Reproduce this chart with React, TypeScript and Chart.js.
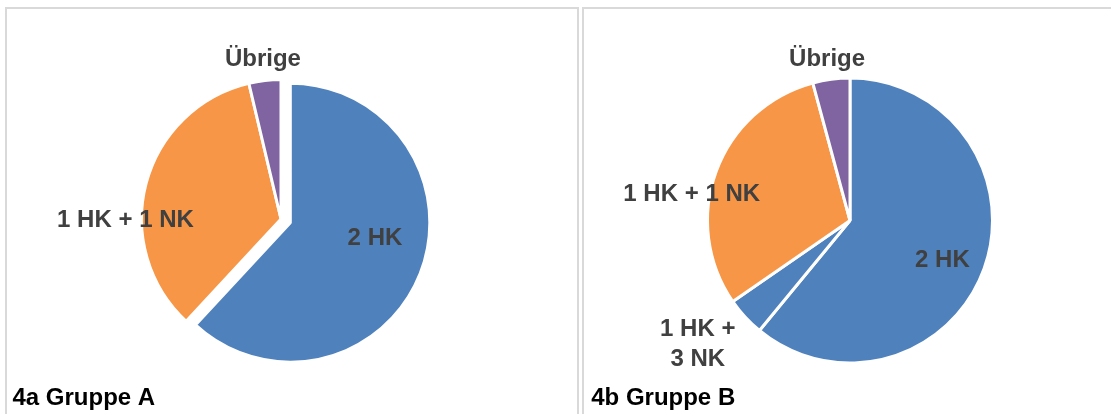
import React, { useEffect, useRef } from 'react';
import { Chart, registerables } from 'chart.js';

Chart.register(...registerables);

// ---------- data ----------
const categoriesA = ['2 HK', '1 HK + 1 NK', 'Übrige'];
const valuesA = [61.9, 34.4, 3.7];
const labelLinesA = [['2 HK'], ['1 HK + 1 NK'], ['Übrige']];
const titleA = '4a Gruppe A';

const categoriesB = ['2 HK', '1 HK + 3 NK', '1 HK + 1 NK', 'Übrige'];
const valuesB = [60.9, 4.4, 30.4, 4.2];
const labelLinesB = [['2 HK'], ['1 HK +', '3 NK'], ['1 HK + 1 NK'], ['Übrige']];
const titleB = '4b Gruppe B';

// ---------- styles ----------
const BLUE = '#4F81BD';
const ORANGE = '#F79646';
const PURPLE = '#8064A2';
const colorsA = [BLUE, ORANGE, PURPLE];
const colorsB = [BLUE, BLUE, ORANGE, PURPLE];
const explodeA = [10, 0, 0];
const explodeB = [0, 0, 0, 0];
// label placement: angle (deg, clockwise from 12 o'clock) and distance as fraction of radius
const placeA = [
  { angle: 99.4, dist: 0.615 },
  { angle: 270.1, dist: 1.115 },
  { angle: 353.6, dist: 1.164 },
];
const placeB = [
  { angle: 112.1, dist: 0.7 },
  { angle: 231.3, dist: 1.369 },
  { angle: 280.0, dist: 1.128 },
  { angle: 352.0, dist: 1.154 },
];
const FONT = '"Liberation Sans", Arial, Helvetica, sans-serif';
const LABEL_SIZE = 24;
const LINE_GAP = 30;

function makePlugin(explode: number[], lines: string[][], place: { angle: number; dist: number }[], title: string, titleX: number) {
  return {
    id: 'pieDecor',
    afterDatasetUpdate(chart: any, args: any) {
      const meta = args.meta;
      meta.data.forEach((arc: any, i: number) => {
        const ex = explode[i] || 0;
        if (ex && !arc._explodeWrapped) {
          const orig = arc.draw;
          arc.draw = function (ctx: CanvasRenderingContext2D, area: any) {
            const mid = (this.startAngle + this.endAngle) / 2;
            ctx.save();
            ctx.translate(Math.cos(mid) * ex, Math.sin(mid) * ex);
            orig.call(this, ctx, area);
            ctx.restore();
          };
          arc._explodeWrapped = true;
        }
      });
    },
    afterDraw(chart: any) {
      const ctx: CanvasRenderingContext2D = chart.ctx;
      const meta = chart.getDatasetMeta(0);
      ctx.save();
      ctx.font = `bold ${LABEL_SIZE}px ${FONT}`;
      ctx.fillStyle = '#404040';
      ctx.textAlign = 'center';
      ctx.textBaseline = 'alphabetic';
      const capHalf = LABEL_SIZE * 0.716 / 2;
      meta.data.forEach((arc: any, i: number) => {
        const ex = explode[i] || 0;
        const mid = (arc.startAngle + arc.endAngle) / 2;
        const cx = arc.x + Math.cos(mid) * ex;
        const cy = arc.y + Math.sin(mid) * ex;
        const p = place[i];
        const th = (p.angle * Math.PI) / 180;
        const d = p.dist * arc.outerRadius;
        const px = cx + d * Math.sin(th);
        const py = cy - d * Math.cos(th);
        const ls = lines[i];
        const n = ls.length;
        ls.forEach((t, k) => {
          const yy = py + (k - (n - 1) / 2) * LINE_GAP + capHalf;
          ctx.fillText(t, px, yy);
        });
      });
      ctx.font = `bold 24px ${FONT}`;
      ctx.fillStyle = '#000000';
      ctx.textAlign = 'left';
      ctx.fillText(title, titleX, 405);
      ctx.restore();
    },
  };
}

type PanelProps = {
  left: number;
  width: number;
  categories: string[];
  values: number[];
  colors: string[];
  explode: number[];
  lines: string[][];
  place: { angle: number; dist: number }[];
  padding: { left: number; right: number; top: number; bottom: number };
  radius: number;
  title: string;
  titleX: number;
};

function PiePanel(props: PanelProps) {
  const ref = useRef<HTMLCanvasElement | null>(null);
  useEffect(() => {
    if (!ref.current) return;
    const chart = new Chart(ref.current, {
      type: 'pie',
      data: {
        labels: props.categories,
        datasets: [
          {
            data: props.values,
            backgroundColor: props.colors,
            borderColor: '#ffffff',
            borderWidth: 3,
            radius: props.radius,
          } as any,
        ],
      },
      options: {
        responsive: false,
        animation: false,
        devicePixelRatio: 1,
        events: [],
        layout: { padding: props.padding },
        plugins: {
          legend: { display: false },
          tooltip: { enabled: false },
        },
      } as any,
      plugins: [makePlugin(props.explode, props.lines, props.place, props.title, props.titleX)],
    });
    return () => chart.destroy();
  }, []);
  return (
    <canvas
      ref={ref}
      width={props.width}
      height={414}
      style={{ position: 'absolute', left: props.left, top: 0, width: props.width, height: 414 }}
    />
  );
}

export default function App() {
  const border = '2px solid #d9d9d9';
  return (
    <div
      style={{
        position: 'fixed',
        left: 0,
        top: 0,
        width: 1111,
        height: 414,
        overflow: 'hidden',
        background: '#ffffff',
      }}
    >
      <div
        style={{
          position: 'absolute',
          left: 5,
          top: 7,
          width: 574,
          height: 420,
          boxSizing: 'border-box',
          borderLeft: border,
          borderTop: border,
          borderRight: border,
        }}
      />
      <div
        style={{
          position: 'absolute',
          left: 582,
          top: 7,
          width: 540,
          height: 420,
          boxSizing: 'border-box',
          borderLeft: border,
          borderTop: border,
        }}
      />
      <PiePanel
        left={0}
        width={580}
        categories={categoriesA}
        values={valuesA}
        colors={colorsA}
        explode={explodeA}
        lines={labelLinesA}
        place={placeA}
        padding={{ left: 0, right: 18, top: 24, bottom: 0 }}
        radius={139.5}
        title={titleA}
        titleX={12.5}
      />
      <PiePanel
        left={580}
        width={531}
        categories={categoriesB}
        values={valuesB}
        colors={colorsB}
        explode={explodeB}
        lines={labelLinesB}
        place={placeB}
        padding={{ left: 9, right: 0, top: 27, bottom: 0 }}
        radius={142.5}
        title={titleB}
        titleX={11.2}
      />
    </div>
  );
}
